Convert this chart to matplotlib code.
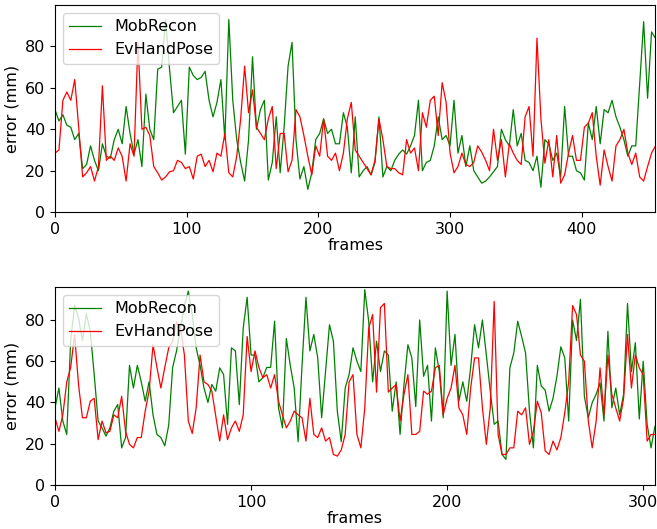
import numpy as np
import matplotlib
matplotlib.use("Agg")
import matplotlib.pyplot as plt

# sequence 1: error per frame, read every 3rd frame (0..456)
seq1_step = 3
seq1_mobrecon = [
    49.5, 44, 47, 42, 41, 35, 38, 21, 23, 32, 25, 20, 33, 27, 26, 35, 40, 33, 51, 38,
    28, 35, 22, 57, 40, 35, 69, 70, 93, 69, 48, 51, 54, 28, 70, 66, 64, 65,
    68, 54, 46, 53, 64, 35, 93, 54, 35, 24, 15, 35, 75, 40, 49.5, 54, 15.5, 24, 46, 19,
    41, 70.5, 82, 35, 16, 22, 11, 19, 35, 38, 45, 38, 40, 33, 33, 48, 41, 19,
    46, 17, 20, 22, 18, 24, 46, 17, 22, 20, 25, 28, 30, 28, 32, 37, 54, 20, 24, 25,
    32, 46, 35, 37, 32, 54, 28.5, 37, 22, 32, 20, 17, 14, 15, 17, 19.5, 22, 40,
    35, 32, 49.5, 32, 38, 25, 24, 20, 27, 12, 35, 33, 25, 28.5, 17, 51, 27, 27, 20, 19,
    15.5, 43, 35, 51, 33, 49.5, 48, 54, 46, 41, 35, 27, 32, 32, 62, 92, 55, 87, 84,
]
seq1_evhandpose = [
    28.5, 30, 54, 58, 54, 64, 41, 17, 19, 22, 15, 22, 61, 25, 27, 25, 31, 27, 15, 33,
    27, 82, 40, 41, 37, 22, 19, 15.5, 17, 19.5, 20, 25, 24, 21, 22, 16, 27, 28,
    22, 25, 19.5, 28.5, 27, 38, 19, 17, 27, 45, 70.5, 48, 59, 41, 38, 35, 45, 51, 21, 38,
    38, 19.5, 25, 49.5, 46, 37, 27, 18, 32, 27, 45, 27, 25, 28.5, 20, 28.5, 45, 53,
    30, 27, 24, 21, 18, 25, 45, 35, 22, 21, 21, 19, 18, 35, 28.5, 31, 20, 48, 41, 54,
    56, 37, 62.5, 53, 28.5, 19, 22, 28.5, 23, 22, 24, 32, 29, 25, 20, 40, 25, 35,
    17, 33, 28.5, 25, 23, 46, 51, 27, 84, 45, 23.6, 35, 17, 37, 14, 18, 28.5, 37, 25, 25,
    41, 43, 48, 27, 13, 30, 22, 15, 32, 35, 40, 28.5, 23, 28.5, 17, 15, 22, 28.5, 32,
]

# sequence 2: error per frame, read every 2nd frame (0..306)
seq2_step = 2
seq2_mobrecon = [
    37.4, 47, 31, 24.5, 70, 87, 81, 70, 83, 74.5, 53.5, 31, 27.7, 23.7, 27.7, 35.8, 39, 18, 23, 58,
    47, 58, 50, 40.6, 50, 34, 24.5, 23, 19, 29, 57, 65, 76, 87, 94, 82.5, 66.5, 58, 47,
    40, 48.7, 45.5, 56.8, 53.5, 29.4, 66.5, 65, 39, 76, 91, 63, 63, 50, 52, 57, 57, 79.4, 37.4,
    27.7, 71, 58, 47, 21, 58, 91, 65, 73, 61.6, 32.6, 55, 77.7, 69.7, 35.8, 21, 47, 53.5, 66.5,
    60, 55, 94.7, 79.4, 50, 69.7, 55, 65, 63, 35.8, 50, 24.5, 48.7, 68, 61.6, 38, 80, 52.7, 58, 31,
    66.5, 55, 32.6, 94, 58, 73, 40.6, 50, 40.6, 57, 77.7, 66.5, 80, 63, 45.5, 29.4, 31, 14.8, 12.4,
    56.8, 64, 79.4, 72, 64, 35.8, 18, 58, 48, 46, 35.8, 42, 52.7, 67, 61.6, 31, 80, 70, 90, 43,
    32.6, 40, 44, 49.5, 31, 74.5, 37.4, 47, 34, 44, 88, 55, 69, 32, 60, 29.4, 18, 28.5,
]
seq2_evhandpose = [
    32.6, 26, 34, 50, 57, 73, 48.7, 32.6, 32.6, 40.6, 42, 22, 31, 25.3, 26, 34, 32.6, 43, 26, 19.7,
    18, 23, 23, 35.8, 45.5, 68, 57, 47, 57, 66.5, 69.7, 79, 76, 63, 31, 25, 37.4, 63, 50,
    48.7, 45.5, 33.4, 21.3, 34, 22, 27.7, 31, 26, 34, 72, 55, 65, 57, 52, 53.5, 47, 53.5, 40.6,
    34, 27.7, 31, 35.8, 34, 32.6, 21.3, 42, 24.5, 23, 27.7, 21.3, 23, 14.8, 14, 17, 24.5, 50, 53.5,
    24.5, 18, 37.4, 76, 82.6, 45, 86, 88, 45, 47, 48.7, 31, 44, 53.5, 24.5, 24.5, 26, 45.5, 44, 45.5,
    56.8, 58, 34, 42, 47, 58, 37.4, 34, 24.5, 47, 61.6, 61.6, 37.4, 19.7, 37.4, 89, 24.5, 14.8, 14.8,
    18, 18, 35.8, 34, 37.4, 19.7, 26, 40.6, 35, 16.5, 14.8, 21.3, 17, 23, 35, 50, 87, 82.6, 63, 60,
    31, 18, 31, 56.8, 34, 63, 44, 37.4, 31, 42, 73, 47, 63, 56.8, 53.5, 21.3, 24.5, 24.5,
]

plt.rcParams['font.size'] = 11.5

fig = plt.figure(figsize=(6.57, 5.29), dpi=100)
ax1 = fig.add_axes([0.0837, 0.599, 0.914, 0.3915])
ax2 = fig.add_axes([0.0837, 0.0832, 0.9132, 0.3743])

panels = [
    (ax1, seq1_step, seq1_mobrecon, seq1_evhandpose, 100),
    (ax2, seq2_step, seq2_mobrecon, seq2_evhandpose, 96),
]
for ax, step, mob, evh, ytop in panels:
    frames = np.arange(len(mob)) * step
    ax.plot(frames, mob, color='g', linewidth=0.9, label='MobRecon')
    ax.plot(frames, evh, color='r', linewidth=0.9, label='EvHandPose')
    ax.set_xlim(0, frames[-1])
    ax.set_ylim(0, ytop)
    ax.set_xticks(np.arange(0, frames[-1] + 1, 100))
    ax.set_yticks([0, 20, 40, 60, 80])
    ax.set_xlabel('frames', labelpad=1)
    ax.set_ylabel('error (mm)')
    ax.legend(loc='upper left')

fig.savefig('out.png', dpi=100)
